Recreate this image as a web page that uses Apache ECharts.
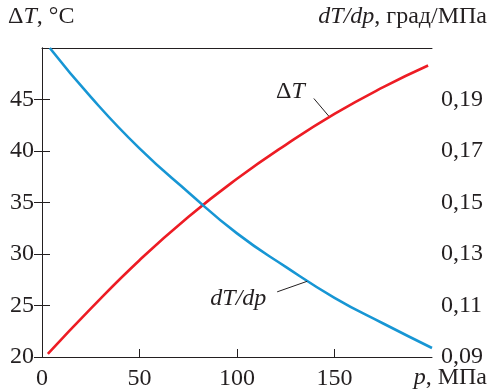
<!DOCTYPE html>
<html>
<head>
<meta charset="utf-8">
<script src="https://cdn.jsdelivr.net/npm/echarts@6/dist/echarts.min.js"></script>
<style>
  html, body { margin: 0; padding: 0; background: #fff; }
  #chart { width: 491px; height: 392px; }
  /* invisible text so the browser has the serif faces ready before the canvas draws */
  #warm { position: absolute; left: 0; top: 0; opacity: 0; font: 24px 'Liberation Serif'; white-space: nowrap; pointer-events: none; }
</style>
</head>
<body>
<div id="warm">ΔT, °C град/МПа 0,19 100 <i>dT/dp p T ΔT</i></div>
<div id="chart"></div>
<script>
// pressure, MPa (x) and temperature drop, deg C (left axis)
const deltaTPressure = [3, 25, 50, 75, 100, 125, 150, 175, 198];
const deltaTValues = [20.3, 24.7, 29.4, 33.6, 37.3, 40.6, 43.6, 46.2, 48.3];

// pressure, MPa (x) and dT/dp, grad/MPa (right axis)
const slopePressure = [4, 25, 50, 75, 100, 125, 150, 175, 200];
const slopeValues = [0.210, 0.191, 0.171, 0.154, 0.138, 0.125, 0.113, 0.103, 0.0935];

const font = 'Liberation Serif';
const fontSize = 24;
const ink = '#231f20';

const axisLine = { show: true, lineStyle: { color: ink, width: 1 } };
const axisTick = { show: true, inside: true, length: 8, lineStyle: { color: ink, width: 1 } };
const axisLabel = { color: ink, fontFamily: font, fontSize: fontSize, showMaxLabel: false };
const italic = { fontStyle: 'italic', fontFamily: font, fontSize: fontSize };

const option = {
  animation: false,
  grid: { left: 42, right: 59, top: 48, bottom: 35 },
  xAxis: [
    {
      type: 'value', min: 0, max: 200, interval: 50,
      axisLine, axisTick, splitLine: { show: false },
      axisLabel: { ...axisLabel, margin: 10 },
    },
    {
      // top frame line only
      type: 'value', position: 'top', min: 0, max: 200,
      axisLine, axisTick: { show: false }, axisLabel: { show: false }, splitLine: { show: false },
    },
  ],
  yAxis: [
    {
      type: 'value', min: 20, max: 50, interval: 5,
      axisLine, axisTick, splitLine: { show: false },
      axisLabel: { ...axisLabel, margin: 8 },
    },
    {
      type: 'value', min: 0.09, max: 0.21, interval: 0.02, position: 'right',
      axisLine, axisTick, splitLine: { show: false },
      axisLabel: {
        ...axisLabel, margin: 9,
        formatter: (v) => v.toFixed(2).replace('.', ','),
      },
    },
  ],
  graphic: [
    {
      type: 'text', left: 8, top: 5,
      style: {
        text: 'Δ{i|T}, °C', fill: ink, fontFamily: font, fontSize: fontSize,
        rich: { i: { ...italic, fill: ink } },
      },
    },
    {
      type: 'text', right: 4, top: 5,
      style: {
        text: '{i|dT/dp}, град/МПа', fill: ink, fontFamily: font, fontSize: fontSize,
        rich: { i: { ...italic, fill: ink } },
      },
    },
    {
      type: 'text', right: 4, top: 366,
      style: {
        text: '{i|p}, МПа', fill: ink, fontFamily: font, fontSize: fontSize,
        rich: { i: { ...italic, fill: ink } },
      },
    },
  ],
  series: [
    {
      name: 'ΔT', type: 'line', yAxisIndex: 0, smooth: true, showSymbol: false,
      data: deltaTPressure.map((p, i) => [p, deltaTValues[i]]),
      lineStyle: { color: '#ed1c24', width: 2.6 },
      itemStyle: { color: '#ed1c24' },
      markLine: {
        silent: true, symbol: 'none', label: { show: false },
        lineStyle: { color: ink, width: 1, type: 'solid' },
        data: [[{ coord: [147, 43.4] }, { coord: [139.4, 45.1] }]],
      },
      markPoint: {
        symbol: 'circle', symbolSize: 0,
        label: {
          show: true, position: 'inside', formatter: 'Δ{i|T}', color: ink,
          fontFamily: font, fontSize: fontSize,
          rich: { i: { ...italic, color: ink } },
        },
        data: [{ coord: [127.4, 45.75] }],
      },
    },
    {
      name: 'dT/dp', type: 'line', yAxisIndex: 1, smooth: true, showSymbol: false,
      data: slopePressure.map((p, i) => [p, slopeValues[i]]),
      lineStyle: { color: '#1796d4', width: 2.6 },
      itemStyle: { color: '#1796d4' },
      markLine: {
        silent: true, symbol: 'none', label: { show: false },
        lineStyle: { color: ink, width: 1, type: 'solid' },
        data: [[{ coord: [136, 0.1194] }, { coord: [120.6, 0.1153] }]],
      },
      markPoint: {
        symbol: 'circle', symbolSize: 0,
        label: {
          show: true, position: 'inside', formatter: '{i|dT/dp}', color: ink,
          fontFamily: font, fontSize: fontSize,
          rich: { i: { ...italic, color: ink } },
        },
        data: [{ coord: [100.7, 0.1128] }],
      },
    },
  ],
};

let chart = null;
function draw() {
  if (chart) chart.dispose();
  chart = echarts.init(document.getElementById('chart'));
  chart.setOption(option);
}

draw();
Promise.all([
  document.fonts.load('24px "Liberation Serif"'),
  document.fonts.load('italic 24px "Liberation Serif"'),
  document.fonts.ready,
]).then(() => {
  draw();
  setTimeout(draw, 120);
}, draw);
</script>
</body>
</html>
